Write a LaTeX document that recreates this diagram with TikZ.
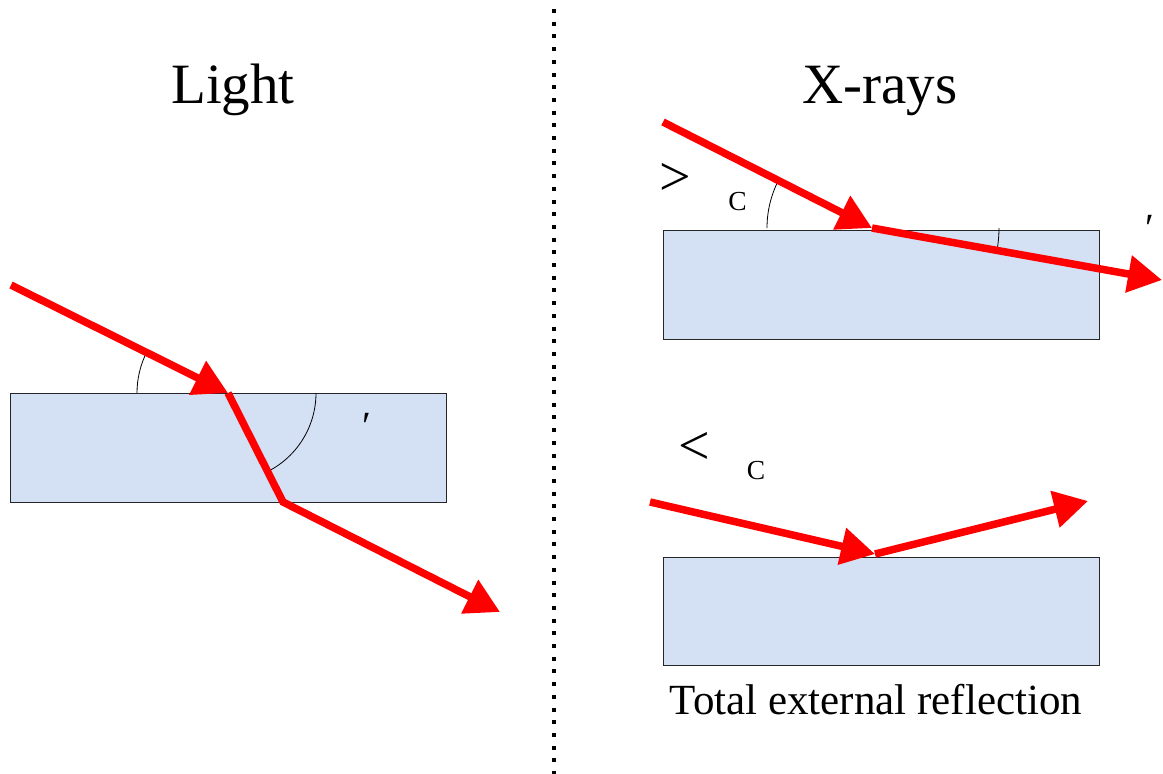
\documentclass[tikz,border=0pt]{standalone}
\usepackage{fontspec}
\setmainfont{Liberation Serif}
\usetikzlibrary{arrows.meta}
\definecolor{glass}{RGB}{212,224,243}
\definecolor{rayred}{RGB}{255,0,0}
\begin{document}
\begin{tikzpicture}[x=1pt,y=-1pt,
  ray/.style={draw=rayred, line width=7.5pt, line join=miter, -{Triangle[length=34pt,width=36pt]}},
  slab/.style={fill=glass, draw=black!85, line width=1pt, inner sep=0pt},
  anglearc/.style={draw=black, line width=0.8pt},
  title/.style={font=\fontsize{57}{60}\selectfont, anchor=base, inner sep=0pt},
  caption/.style={font=\fontsize{43}{46}\selectfont, anchor=base, inner sep=0pt},
  relsym/.style={font=\fontsize{56}{58}\selectfont, inner sep=0pt},
  subc/.style={font=\fontsize{27.5}{30}\selectfont, anchor=base, inner sep=0pt},
  primemark/.style={font=\fontsize{40}{42}\selectfont, inner sep=0pt},
  divider/.style={draw=black, line width=4pt, dash pattern=on 4pt off 8.7pt}
]
\useasboundingbox (0,0) rectangle (1163,774);

% divider
\coordinate (divtop) at (554,9);
\coordinate (divbot) at (554,774);
\draw[divider] (divtop) -- (divbot);

% titles
\node[title] (tlight) at (233,103) {Light};
\node[title] (txray) at (880,103) {X-rays};
\node[caption] (tcap) at (876,714) {Total external reflection};

% ---------- Light: refraction ----------
\node[slab, minimum width=436pt, minimum height=109pt] (slabL) at (228,447.5) {};
\coordinate (L0) at (11,285);
\coordinate (L1) at (228,393);
\coordinate (L2) at (283,502);
\coordinate (L3) at (500,612);
\draw[anglearc] (L1) ++(180:91pt) arc[start angle=180, end angle=153.5, radius=91pt];
\draw[anglearc] (L1) ++(0:88pt) arc[start angle=0, end angle=-63.2, radius=88pt];
\draw[ray] (L0) -- (L1);
\draw[ray] (L1) -- (L2) -- (L3);
\node[primemark] (pL) at (366.5,426) {′};

% ---------- X-rays: above critical angle ----------
\node[slab, minimum width=436pt, minimum height=109pt] (slabT) at (881,284.5) {};
\coordinate (T0) at (663,122);
\coordinate (T1) at (872,228);
\coordinate (T2) at (1162,280);
\draw[anglearc] (T1) ++(180:105pt) arc[start angle=180, end angle=153.1, radius=105pt];
\draw[anglearc] (T1) ++(0:127pt) arc[start angle=0, end angle=-10.2, radius=127pt];
\draw[ray] (T0) -- (T1);
\draw[ray] (T1) -- (T2);
\node[relsym] (gt) at (675.5,179) {>};
\node[subc] (cT) at (737.5,210) {C};
\node[primemark] (pT) at (1150,228) {′};

% ---------- X-rays: total external reflection ----------
\node[slab, minimum width=436pt, minimum height=108pt] (slabB) at (881,611) {};
\coordinate (B0) at (650,502);
\coordinate (B1) at (875,554);
\coordinate (B2) at (1088,501);
\draw[ray] (B0) -- (B1);
\draw[ray] (B1) -- (B2);
\node[relsym] (lt) at (694,448.5) {<};
\node[subc] (cB) at (756,479) {C};
\end{tikzpicture}
\end{document}
